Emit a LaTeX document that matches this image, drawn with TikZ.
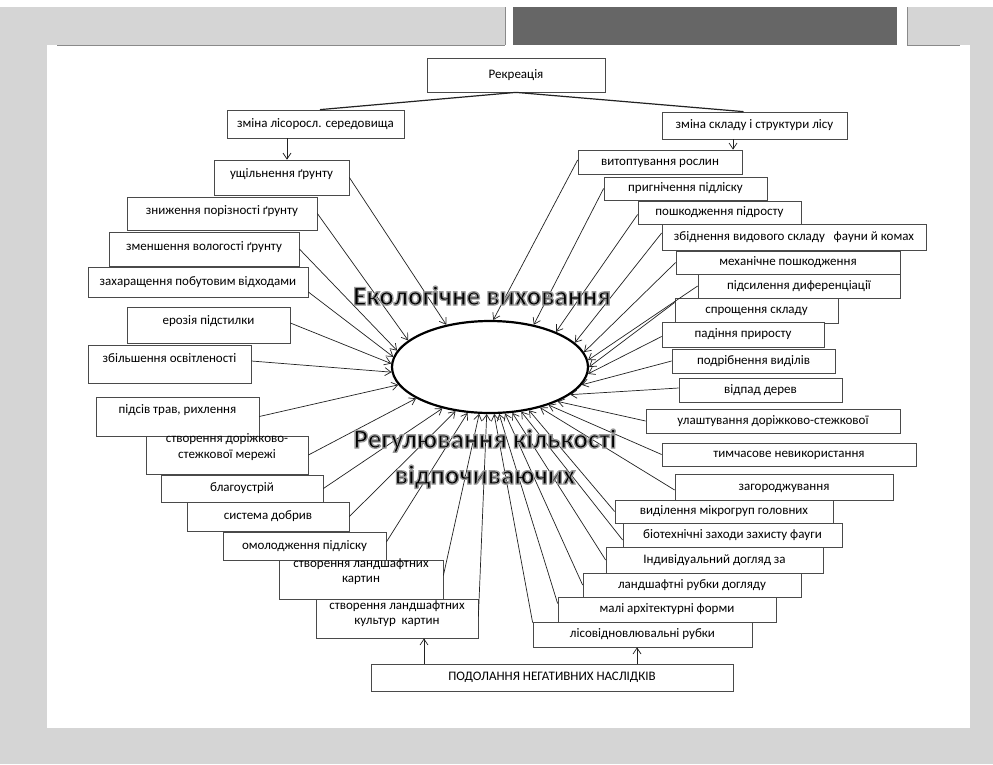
\documentclass[tikz,border=0pt]{standalone}
\usepackage{fontspec}
\setmainfont{Carlito}
\newfontfamily\bigfont[FakeBold=5]{Carlito Bold}
\usetikzlibrary{arrows.meta,shapes.geometric,calc}
\definecolor{bgc}{HTML}{D5D5D5}
\definecolor{darkblk}{HTML}{666666}
\definecolor{boxc}{HTML}{4A4A4A}
\definecolor{linec}{HTML}{222222}
\definecolor{edgec}{HTML}{8A8A8A}
\newcommand\bx[6]{\node[bx, minimum width={(#4-#2)*1pt}, minimum height={(#5-#3)*1pt}] (#1) at ({(#2+#4)/2},{(#3+#5)/2}) {#6};}
\newcommand\glow{\special{pdf:code 0.6 0.6 0.6 RG}}
\tikzset{
  bx/.style={draw=boxc, fill=white, line width=0.75pt, inner sep=0pt, align=center,
    font=\fontsize{13}{15.5}\selectfont, text height=9pt, text depth=3pt},
  arr/.style={draw=linec, line width=0.7pt, -{Straight Barb[length=6pt,width=8pt]}},
  rekl/.style={draw=linec, line width=1.2pt},
  bigt/.style={font=\bigfont\fontsize{27}{30}\selectfont, anchor=base, inner sep=0pt, text=black},
}
\begin{document}
\begin{tikzpicture}[x=1pt,y=-1pt]
\useasboundingbox (0,0) rectangle (993,764);
% background
\fill[bgc] (0,0) rectangle (993,764);
\fill[white] (0,0) rectangle (993,7);
\fill[white] (505,7) rectangle (513,45);
\fill[white] (897,7) rectangle (907,45);
\fill[darkblk] (513,7) rectangle (897,45);
\draw[edgec, line width=1pt] (505,7) -- (505,45);
\draw[edgec, line width=1pt] (907,7) -- (907,45);
\fill[white] (47,45) rectangle (970,728);
\draw[edgec, line width=1pt] (57,45) -- (505,45);
\draw[edgec, line width=1pt] (907,45) -- (960,45);

% ellipse
\node[ellipse, draw=black, line width=2.2pt, fill=white, minimum width=196pt, minimum height=92pt, inner sep=0pt] (E) at (490,367) {};

% boxes top
\bx{rek}{427}{58}{605}{92}{Рекреація}
\bx{zls}{227}{110}{404}{138}{зміна лісоросл. середовища}
\bx{zss}{662}{112}{847}{139}{зміна складу і структури лісу}

% left boxes
\bx{l1}{214}{160}{349}{195}{\raisebox{3pt}{ущільнення ґрунту}}
\bx{l2}{127}{197}{317}{230}{\raisebox{2pt}{зниження порізності ґрунту}}
\bx{l3}{109}{232}{299}{266}{\raisebox{2pt}{зменшення вологості ґрунту}}
\bx{l4}{88}{267}{308}{297}{захаращення побутовим відходами}
\bx{l5}{127}{307}{290}{343}{\raisebox{4pt}{ерозія підстилки}}
\bx{l6}{88}{345}{251}{383}{\raisebox{5pt}{збільшення освітленості}}
\bx{l7}{96}{397}{259}{436}{\raisebox{6pt}{підсів трав, рихлення}}
\bx{l8}{146}{436}{308}{474}{створення доріжково-\\стежкової мережі}
\bx{l9}{161}{475}{323}{502}{благоустрій}
\bx{l10}{187}{502}{349}{531}{система добрив}
\bx{l11}{223}{532}{386}{560}{омолодження підліску}
\bx{l12}{279}{560}{443}{599}{створення ландшафтних\\картин}
\bx{l13}{316}{599}{478}{638}{\raisebox{-3pt}{створення ландшафтних}\\\raisebox{-3pt}{культур\ \ картин}}

% right boxes
\bx{r1}{578}{150}{742}{174}{витоптування рослин}
\bx{r2}{604}{177}{767}{200}{пригнічення підліску}
\bx{r3}{638}{201}{801}{224}{пошкодження підросту}
\bx{r4}{662}{224}{926}{250}{збіднення видового складу\ \ \ фауни й комах}
\bx{r5}{676}{251}{900}{274}{механічне пошкодження}
\bx{r6}{698}{274}{900}{298}{підсилення диференціації}
\bx{r7}{675}{298}{838}{323}{спрощення складу}
\bx{r8}{662}{322}{824}{347}{падіння приросту}
\bx{r9}{672}{349}{835}{373}{подрібнення виділів}
\bx{r10}{679}{378}{842}{402}{відпад дерев}
\bx{r11}{646}{409}{900}{433}{улаштування доріжково-стежкової}
\bx{r12}{662}{443}{916}{466}{тимчасове невикористання}
\bx{r13}{675}{474}{893}{500}{загороджування}
\bx{r14}{615}{500}{833}{523}{виділення мікрогруп головних}
\bx{r15}{623}{523}{842}{547}{біотехнічні заходи захисту фауги}
\bx{r16}{606}{547}{823}{573}{Індивідуальний догляд за}
\bx{r17}{583}{573}{801}{597}{ландшафтні рубки догляду}
\bx{r18}{558}{597}{776}{622}{малі архітектурні форми}
\bx{r19}{533}{622}{752}{647}{лісовідновлювальні рубки}
\bx{pod}{371}{664}{733}{691}{ПОДОЛАННЯ НЕГАТИВНИХ НАСЛІДКІВ}

% top connectors
\draw[rekl] (rek.south) -- ([xshift=4.5pt]zls.north);
\draw[rekl] (rek.south) -- ([xshift=-11pt]zss.north);
\coordinate (ax1) at (287,0);
\coordinate (ax2) at (733,0);
\coordinate (ax3) at (424,0);
\coordinate (ax4) at (637,0);
\draw[arr] (zls.south -| ax1) -- (l1.north -| ax1);
\draw[arr] (zss.south -| ax2) -- (r1.north -| ax2);
\draw[arr] (pod.north -| ax3) -- (l13.south -| ax3);
\draw[arr] (pod.north -| ax4) -- (r19.south -| ax4);

% left connectors
\draw[arr] (l1.east) -- (E.136);
\draw[arr] (l2.east) -- (E.162);
\draw[arr] (l3.east) -- (E.170);
\draw[arr] ([yshift=-10pt]l4.east) -- (E.174);
\draw[arr] ([yshift=2pt]l5.east) -- (E.178);
\draw[arr] ([yshift=3pt]l6.east) -- (E.183);
\draw[arr] (l7.east) -- (E.191);
\draw[arr] (l8.east) -- (E.203);
\draw[arr] (l9.east) -- (E.221);
\draw[arr] (l10.east) -- (E.232);
\draw[arr] ([yshift=4pt]l11.east) -- (E.244);
\draw[arr] ([yshift=4pt]l12.east) -- (E.257);
\draw[arr] ([yshift=2pt]l13.east) -- (E.266);

% right connectors
\draw[arr] ([yshift=2pt]r1.west) -- (E.86);
\draw[arr] (r2.west) -- (E.44);
\draw[arr] ([yshift=-2pt]r3.west) -- (E.28);
\draw[arr] ([yshift=4pt]r4.west) -- (E.16);
\draw[arr] (r5.west) -- (E.9);
\draw[arr] (r6.west) -- (E.4);
\draw[arr] ([yshift=8pt]r7.west) -- (E.0);
\draw[arr] ([yshift=-2pt]r8.west) -- (E.-4);
\draw[arr] (r9.west) -- (E.-11);
\draw[arr] ([yshift=2pt]r10.west) -- (E.-19);
\draw[arr] (r11.west) -- (E.-27);
\draw[arr] (r12.west) -- (E.-33);
\draw[arr] ([yshift=-3pt]r13.west) -- (E.-39);
\draw[arr] (r14.west) -- (E.-48);
\draw[arr] ([yshift=-5pt]r15.west) -- (E.-55);
\draw[arr] (r16.west) -- (E.-64);
\draw[arr] (r17.west) -- (E.-72);
\draw[arr] ([yshift=6pt]r18.west) -- (E.-79);
\draw[arr] ([yshift=-1pt]r19.north west) -- (E.-85);

% big labels with grey glow (stroked outline)
\node[bigt] (t1) at (482,305) {\glow Екологічне виховання};
\node[bigt] (t2) at (485,448) {\glow Регулювання кількості};
\node[bigt] (t3) at (485,484) {\glow відпочиваючих};
\end{tikzpicture}
\end{document}
